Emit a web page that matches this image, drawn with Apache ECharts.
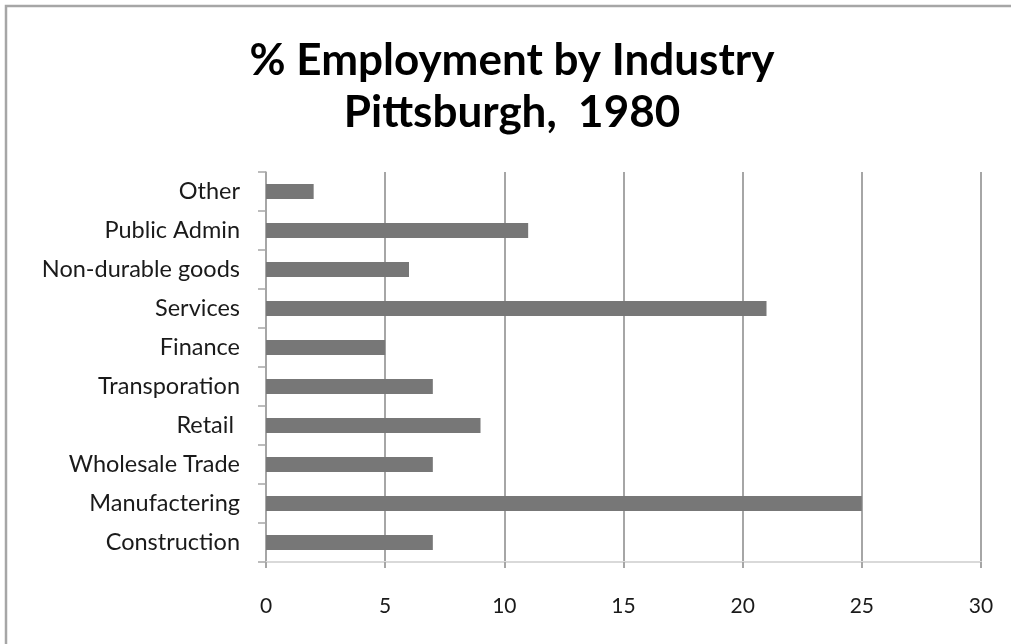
<!DOCTYPE html>
<html>
<head>
<meta charset="utf-8">
<title>% Employment by Industry, Pittsburgh 1980</title>
<script src="https://cdn.jsdelivr.net/npm/echarts@6/dist/echarts.min.js"></script>
<style>
  html, body { margin: 0; padding: 0; background: #ffffff; }
  #chart { width: 1011px; height: 644px; }
</style>
</head>
<body>
<div id="chart"></div>
<script>
// Industries, listed bottom to top as they appear on the category axis
const industries = [
  'Construction',
  'Manufactering',
  'Wholesale Trade',
  'Retail ',
  'Transporation',
  'Finance',
  'Services',
  'Non-durable goods',
  'Public Admin',
  'Other'
];

// Share of employment (%) for each industry above
const employmentShare = [7, 25, 7, 9, 7, 5, 21, 6, 11, 2];

// Value axis ticks
const xTicks = [0, 5, 10, 15, 20, 25, 30];

const FONT = 'Lato, "Open Sans", sans-serif';
const GRID_GREY = '#a6a6a6';

const chart = echarts.init(document.getElementById('chart'), null, { renderer: 'canvas' });

chart.setOption({
  backgroundColor: '#ffffff',
  animation: false,
  title: {
    text: '% Employment by Industry\nPittsburgh,  1980',
    left: 507,
    textAlign: 'center',
    top: 30,
    textStyle: {
      fontFamily: FONT,
      fontSize: 44,
      fontWeight: 'bold',
      lineHeight: 52,
      color: '#000000'
    }
  },
  graphic: [
    {
      // frame around the chart (only its top and left edges fall inside the view)
      type: 'rect',
      silent: true,
      shape: { x: 6, y: 6, width: 1100, height: 720 },
      style: { fill: 'none', stroke: GRID_GREY, lineWidth: 2.5 }
    }
  ],
  grid: {
    left: 266,
    right: 30,
    top: 172,
    bottom: 82,
    containLabel: false
  },
  xAxis: {
    type: 'value',
    min: xTicks[0],
    max: xTicks[xTicks.length - 1],
    interval: xTicks[1] - xTicks[0],
    axisLine: { show: true, lineStyle: { color: '#d9d9d9', width: 2 } },
    axisTick: { show: true, length: 6, lineStyle: { color: GRID_GREY, width: 2 } },
    splitLine: { show: true, lineStyle: { color: GRID_GREY, width: 2 } },
    axisLabel: {
      margin: 34,
      fontFamily: FONT,
      fontSize: 21,
      color: '#1a1a1a'
    }
  },
  yAxis: {
    type: 'category',
    data: industries,
    axisLine: { show: true, lineStyle: { color: GRID_GREY, width: 1.5 } },
    axisTick: { show: true, length: 8, lineStyle: { color: GRID_GREY, width: 1.5 } },
    splitLine: { show: false },
    axisLabel: {
      margin: 26,
      padding: [6, 0, 0, 0],
      fontFamily: FONT,
      fontSize: 23.5,
      color: '#1a1a1a'
    }
  },
  series: [
    {
      type: 'bar',
      data: employmentShare,
      barWidth: 15,
      itemStyle: { color: '#777777' }
    }
  ]
});
</script>
</body>
</html>
